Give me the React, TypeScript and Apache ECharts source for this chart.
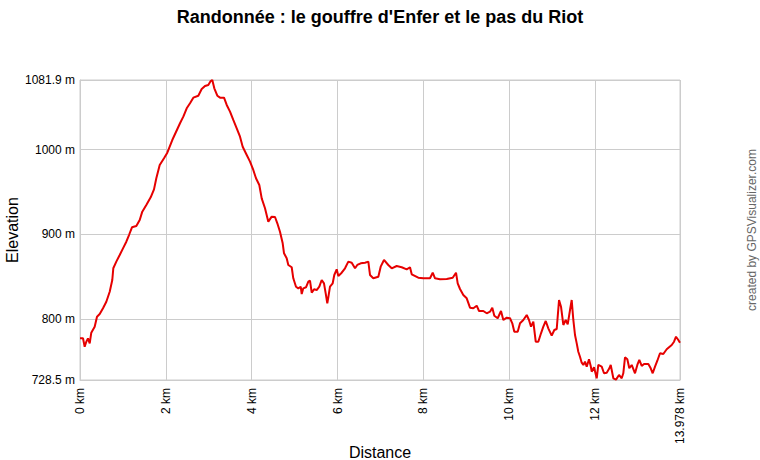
import { useEffect, useRef } from 'react';
import * as echarts from 'echarts';

// distance along the track (km) and elevation (m)
const distKm = [
  0.0, 0.07, 0.109, 0.147, 0.186, 0.226, 0.263, 0.342, 0.396, 0.459, 0.536, 0.613, 0.692, 0.752, 0.776, 0.846,
  0.925, 1.002, 1.079, 1.142, 1.211, 1.312, 1.391, 1.451, 1.545, 1.647, 1.724, 1.778, 1.857, 1.957, 2.034, 2.15,
  2.33, 2.407, 2.486, 2.563, 2.64, 2.756, 2.835, 2.912, 2.989, 3.045, 3.082, 3.129, 3.199, 3.262, 3.355, 3.418,
  3.495, 3.571, 3.651, 3.728, 3.79, 3.884, 3.961, 4.037, 4.1, 4.177, 4.233, 4.31, 4.387, 4.466, 4.543, 4.597,
  4.659, 4.722, 4.753, 4.815, 4.853, 4.932, 4.969, 5.032, 5.086, 5.142, 5.165, 5.202, 5.265, 5.319, 5.358, 5.398,
  5.452, 5.514, 5.575, 5.631, 5.684, 5.724, 5.761, 5.785, 5.824, 5.887, 5.924, 5.98, 6.018, 6.097, 6.174, 6.251,
  6.33, 6.407, 6.46, 6.54, 6.64, 6.717, 6.756, 6.833, 6.95, 7.005, 7.082, 7.182, 7.262, 7.378, 7.495, 7.611,
  7.688, 7.728, 7.881, 7.998, 8.154, 8.217, 8.271, 8.387, 8.543, 8.683, 8.76, 8.799, 8.853, 8.93, 9.009, 9.086,
  9.163, 9.242, 9.296, 9.396, 9.475, 9.552, 9.605, 9.652, 9.731, 9.808, 9.862, 9.941, 10.018, 10.071, 10.118, 10.197,
  10.251, 10.328, 10.407, 10.46, 10.507, 10.561, 10.617, 10.677, 10.74, 10.794, 10.85, 10.91, 10.989, 11.05, 11.106, 11.16,
  11.206, 11.26, 11.316, 11.362, 11.416, 11.455, 11.493, 11.532, 11.572, 11.609, 11.648, 11.688, 11.726, 11.765, 11.805, 11.858,
  11.898, 11.921, 11.975, 12.038, 12.075, 12.154, 12.208, 12.271, 12.332, 12.364, 12.425, 12.487, 12.557, 12.62, 12.657, 12.697,
  12.751, 12.797, 12.853, 12.93, 12.984, 13.03, 13.086, 13.14, 13.24, 13.296, 13.342, 13.396, 13.45, 13.512, 13.589, 13.668,
  13.785, 13.839, 13.885, 13.939, 13.978,
];

const elevM = [
  777.6, 777.6, 767.7, 773.6, 777.6, 771.7, 784.2, 791.3, 803.1, 806.2, 813.0, 820.7, 832.5, 846.3, 860.1, 867.9,
  875.8, 883.6, 891.4, 899.3, 908.4, 909.9, 917.0, 926.8, 934.7, 943.7, 953.1, 966.1, 981.8, 989.7, 996.3, 1011.2,
  1030.9, 1038.7, 1048.6, 1054.5, 1061.1, 1063.4, 1071.3, 1074.8, 1076.0, 1080.7, 1081.9, 1072.1, 1063.4, 1061.1, 1061.1, 1052.5,
  1044.6, 1034.8, 1025.0, 1015.1, 1003.3, 993.6, 985.7, 975.9, 966.1, 958.2, 942.5, 930.8, 915.0, 920.9, 920.5, 913.1,
  903.2, 889.5, 877.8, 871.9, 864.0, 861.3, 848.3, 838.4, 836.5, 838.4, 829.8, 836.5, 837.7, 844.3, 845.5, 831.3,
  835.3, 834.5, 838.4, 846.3, 842.4, 830.6, 818.9, 825.9, 838.4, 842.4, 852.2, 858.9, 851.0, 854.9, 860.1, 867.9,
  866.7, 860.1, 864.0, 866.0, 866.7, 867.9, 852.2, 848.3, 850.2, 862.0, 869.9, 864.0, 860.1, 862.8, 861.3, 858.9,
  861.3, 853.0, 849.0, 848.3, 848.3, 854.9, 848.3, 847.1, 847.5, 849.0, 854.9, 842.4, 835.7, 828.6, 824.7, 813.7,
  813.0, 816.0, 809.8, 809.8, 807.1, 809.0, 813.7, 804.2, 801.2, 809.8, 799.2, 801.9, 801.2, 795.3, 785.4, 785.4,
  795.3, 799.2, 805.1, 799.2, 791.3, 797.2, 773.6, 773.6, 783.5, 791.3, 798.0, 789.4, 780.7, 787.4, 788.6, 822.7,
  814.8, 793.3, 799.2, 794.1, 811.0, 822.7, 799.2, 781.5, 771.7, 761.8, 755.9, 748.9, 746.2, 750.1, 744.2, 752.9,
  745.0, 738.3, 743.5, 730.5, 746.2, 744.2, 736.4, 737.1, 742.3, 746.2, 730.5, 728.9, 734.4, 730.5, 736.4, 755.2,
  752.9, 742.3, 746.2, 736.4, 746.2, 752.1, 745.0, 747.3, 747.3, 742.3, 736.4, 744.2, 751.2, 760.0, 759.1, 764.7,
  769.7, 773.6, 779.5, 775.6, 772.4,
];

const xTicks = [0, 2, 4, 6, 8, 10, 12, 13.978];
const yTicks = [728.5, 800, 900, 1000, 1081.9];

const FONT = '"Liberation Sans", Arial, sans-serif';
const GRID_COLOR = '#cccccc';

export default function App() {
  const ref = useRef<HTMLDivElement>(null);

  useEffect(() => {
    if (!ref.current) return;
    const chart = echarts.init(ref.current, null, { renderer: 'svg' });

    const option: any = {
      animation: false,
      backgroundColor: '#ffffff',
      textStyle: { fontFamily: FONT },
      title: {
        text: "Randonnée : le gouffre d'Enfer et le pas du Riot",
        left: 'center',
        top: 3,
        textStyle: { fontFamily: FONT, fontSize: 18, fontWeight: 'bold', color: '#000' },
      },
      grid: {
        left: 80,
        right: 80,
        top: 80,
        bottom: 80,
        containLabel: false,
        outerBoundsMode: 'none',
        show: true,
        borderColor: GRID_COLOR,
        borderWidth: 1,
      },
      xAxis: {
        type: 'value',
        min: 0,
        max: 13.978,
        name: 'Distance',
        nameLocation: 'middle',
        nameMoveOverlap: false,
        nameGap: 64,
        nameTextStyle: { fontFamily: FONT, fontSize: 16, color: '#000' },
        axisLine: { show: true, lineStyle: { color: GRID_COLOR } },
        axisTick: { show: false, customValues: xTicks },
        axisLabel: {
          customValues: xTicks,
          rotate: 90,
          margin: 8,
          fontFamily: FONT,
          fontSize: 12,
          color: '#000',
          formatter: (v: number) => `${v} km`,
        },
        splitLine: { show: true, lineStyle: { color: GRID_COLOR, width: 1 } },
      },
      yAxis: {
        type: 'value',
        min: 728.5,
        max: 1081.9,
        name: 'Elevation',
        nameLocation: 'middle',
        nameMoveOverlap: false,
        nameGap: 60,
        nameTextStyle: { fontFamily: FONT, fontSize: 16, color: '#000' },
        axisLine: { show: true, lineStyle: { color: GRID_COLOR } },
        axisTick: { show: false, customValues: yTicks },
        axisLabel: {
          customValues: yTicks,
          margin: 5,
          fontFamily: FONT,
          fontSize: 12,
          color: '#000',
          formatter: (v: number) => `${v} m`,
        },
        splitLine: { show: true, lineStyle: { color: GRID_COLOR, width: 1 } },
      },
      graphic: [
        {
          type: 'text',
          x: 752,
          y: 230,
          rotation: Math.PI / 2,
          style: {
            text: 'created by GPSVisualizer.com',
            fontFamily: FONT,
            fontSize: 12,
            fill: '#666666',
            align: 'center',
            verticalAlign: 'middle',
          },
        },
      ],
      series: [
        {
          type: 'line',
          data: distKm.map((d, i) => [d, elevM[i]]),
          showSymbol: false,
          symbol: 'none',
          lineStyle: { color: '#e60000', width: 2 },
          clip: true,
        },
      ],
    };

    chart.setOption(option);
    return () => chart.dispose();
  }, []);

  return (
    <div
      ref={ref}
      style={{ position: 'fixed', left: 0, top: 0, width: 760, height: 460, background: '#fff' }}
    />
  );
}
